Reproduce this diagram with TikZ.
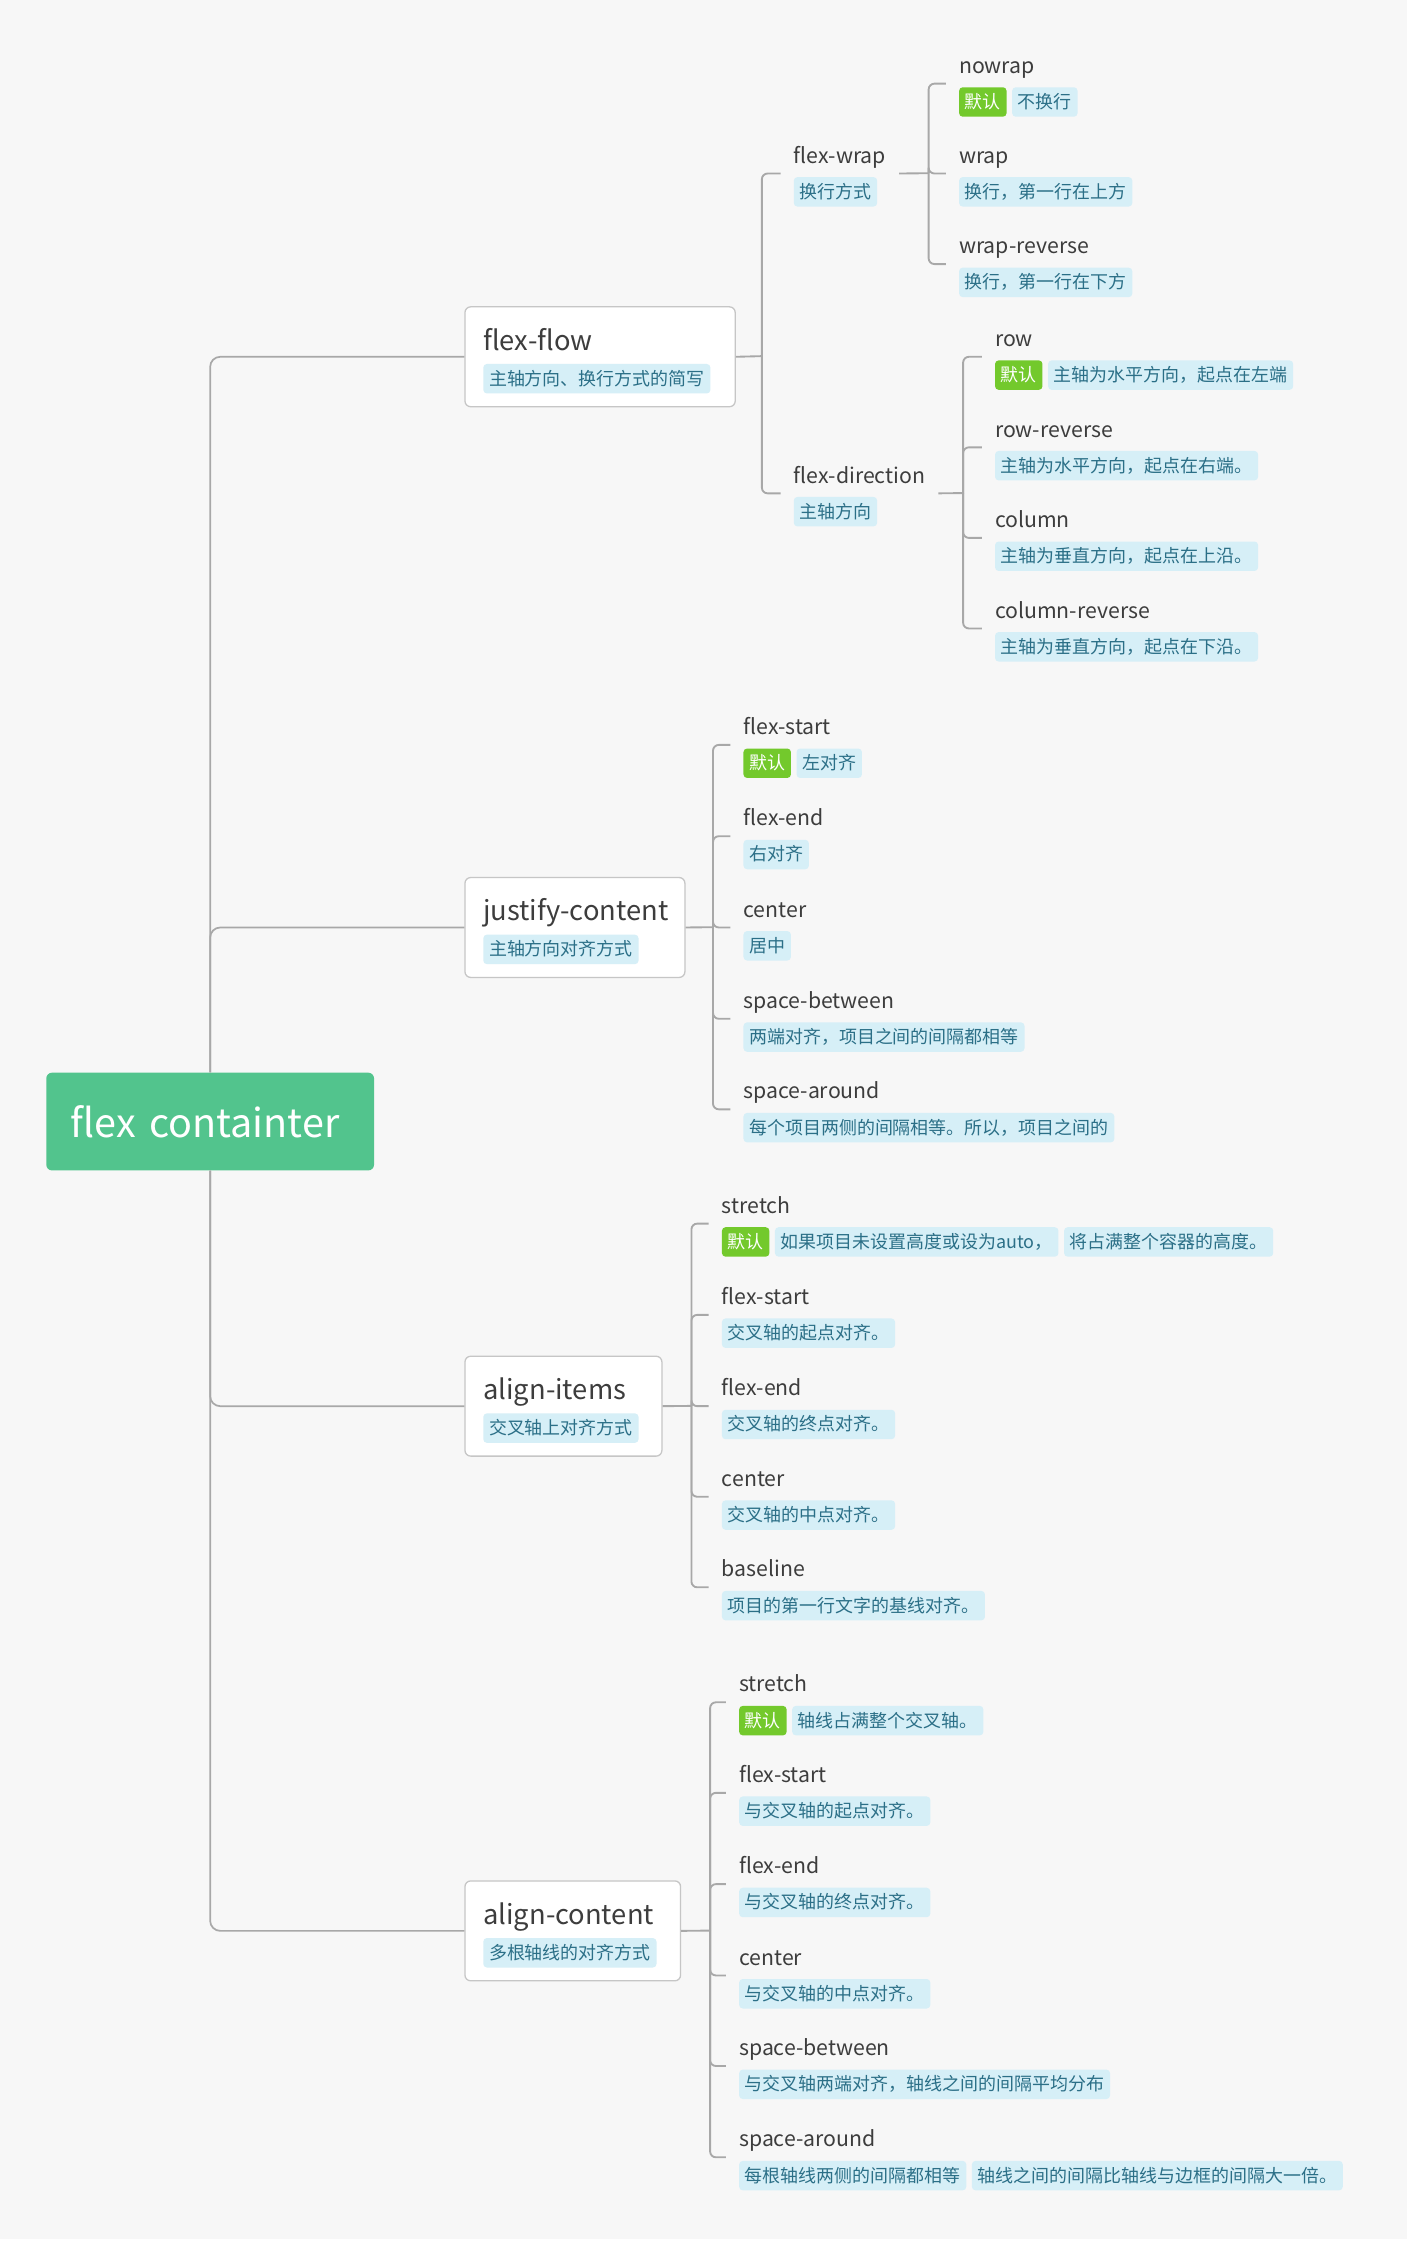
\documentclass[tikz,border=0pt]{standalone}
\usepackage{fontspec}
\setmainfont{Noto Sans CJK SC}
\usetikzlibrary{positioning}
\definecolor{bgcol}{HTML}{F7F7F7}
\definecolor{rootgreen}{HTML}{52C48D}
\definecolor{defgreen}{HTML}{73C92C}
\definecolor{tagbg}{HTML}{D6EFF7}
\definecolor{tagink}{HTML}{2B6F87}
\definecolor{ink}{HTML}{3D3D3D}
\definecolor{linecol}{HTML}{A8A8A8}
\definecolor{cardline}{HTML}{C6C6C6}
\newcommand\rootfont{\fontsize{27.5}{33}\selectfont}
\newcommand\cardfont{\fontsize{19}{23}\selectfont}
\newcommand\itemfont{\fontsize{14.8}{18}\selectfont}
\newcommand\tagfont{\fontsize{12.5}{15}\selectfont}
\tikzset{
  link/.style={draw=linecol, line width=1.3pt, rounded corners=4pt},
  trunkline/.style={draw=linecol, line width=1.2pt, rounded corners=7pt},
  rootbox/.style={anchor=north west, fill=rootgreen, rounded corners=4pt, text=white, font=\rootfont,
    text width=194pt, align=left, inner xsep=17pt, inner ysep=0pt, minimum height=68pt},
  cardbox/.style={anchor=north west, draw=cardline, line width=0.9pt, fill=white, rounded corners=4pt,
    minimum height=69.5pt, inner sep=0pt},
  cardtitle/.style={anchor=base west, inner sep=0pt, font=\cardfont, text=ink},
  itemtitle/.style={anchor=base west, inner xsep=9pt, inner ysep=0pt, text depth=7pt, font=\itemfont, text=ink},
  notetag/.style={anchor=north west, fill=tagbg, text=tagink, rounded corners=2.5pt, font=\tagfont,
    inner xsep=4pt, inner ysep=0pt, text height=10.5pt, text depth=1.5pt, minimum height=20.5pt},
  deftag/.style={notetag, fill=defgreen, text=white},
}
\begin{document}
\begin{tikzpicture}[x=1pt,y=-1pt]
\useasboundingbox (0,0) rectangle (985,1568);
\fill[white] (0,0) rectangle (985,1568);
\fill[bgcol] (0,0) rectangle (979,1557.5);
% root and the four cards
\node[rootbox] (root) at (32,746) {flex containter};
\node[cardbox, minimum width=188pt] (ff) at (323,213) {};
\node[cardbox, minimum width=153pt] (jc) at (323,610) {};
\node[cardbox, minimum width=137pt] (ai) at (323,943) {};
\node[cardbox, minimum width=150pt] (ac) at (323,1308) {};
\draw[trunkline] (root.north) |- (ff.west);
\draw[trunkline] (root.north) |- (jc.west);
\draw[trunkline] (root.south) |- (ai.west);
\draw[trunkline] (root.south) |- (ac.west);
\node[cardtitle] (ff-t) at (336,243.5) {flex-flow};
\node[notetag] (ff-s) at (336,253) {主轴方向、换行方式的简写};
\node[cardtitle] (jc-t) at (336,640.5) {justify-content};
\node[notetag] (jc-s) at (336,650) {主轴方向对齐方式};
\node[cardtitle] (ai-t) at (336,973.5) {align-items};
\node[notetag] (ai-s) at (336,983) {交叉轴上对齐方式};
\node[cardtitle] (ac-t) at (336,1338.5) {align-content};
\node[notetag] (ac-s) at (336,1348) {多根轴线的对齐方式};
% flex-flow
\coordinate (ff-j) at (530,247.75);
\draw[link] (ff.east) -- (ff-j);
\node[itemtitle] (fwrap) at (543,113.5) {flex-wrap};
\node[notetag] (fwrap-n) at (552,123) {换行方式};
\node[itemtitle] (fdir) at (543,336) {flex-direction};
\node[notetag] (fdir-n) at (552,345.5) {主轴方向};
\draw[link] (ff-j) |- (fwrap.south west);
\draw[link] (ff-j) |- (fdir.south west);
% flex-wrap
\coordinate (fw-j) at (646,120.5);
\draw[link] (fwrap.south east) -- (fw-j);
\node[itemtitle] (nowrap) at (658,51) {nowrap};
\node[deftag] (nowrap-d) at (667,60.5) {默认};
\node[notetag, right=3.5pt of nowrap-d] (nowrap-n) {不换行};
\node[itemtitle] (wrap) at (658,113.5) {wrap};
\node[notetag] (wrap-n) at (667,123) {换行，第一行在上方};
\node[itemtitle] (wrapr) at (658,176.5) {wrap-reverse};
\node[notetag] (wrapr-n) at (667,186) {换行，第一行在下方};
\draw[link] (fw-j) |- (nowrap.south west);
\draw[link] (fw-j) |- (wrap.south west);
\draw[link] (fw-j) |- (wrapr.south west);
% flex-direction
\coordinate (fd-j) at (670,343);
\draw[link] (fdir.south east) -- (fd-j);
\node[itemtitle] (row) at (683,241) {row};
\node[deftag] (row-d) at (692,250.5) {默认};
\node[notetag, right=3.5pt of row-d] (row-n) {主轴为水平方向，起点在左端};
\node[itemtitle] (rowr) at (683,304) {row-reverse};
\node[notetag] (rowr-n) at (692,313.5) {主轴为水平方向，起点在右端。};
\node[itemtitle] (col) at (683,367) {column};
\node[notetag] (col-n) at (692,376.5) {主轴为垂直方向，起点在上沿。};
\node[itemtitle] (colr) at (683,430) {column-reverse};
\node[notetag] (colr-n) at (692,439.5) {主轴为垂直方向，起点在下沿。};
\draw[link] (fd-j) |- (row.south west);
\draw[link] (fd-j) |- (rowr.south west);
\draw[link] (fd-j) |- (col.south west);
\draw[link] (fd-j) |- (colr.south west);
% justify-content
\coordinate (jc-j) at (496,645);
\draw[link] (jc.east) -- (jc-j);
\node[itemtitle] (jc-start) at (508,511) {flex-start};
\node[deftag] (jc-start-d) at (517,520.5) {默认};
\node[notetag, right=3.5pt of jc-start-d] (jc-start-n) {左对齐};
\node[itemtitle] (jc-end) at (508,574.5) {flex-end};
\node[notetag] (jc-end-n) at (517,584) {右对齐};
\node[itemtitle] (jc-center) at (508,638) {center};
\node[notetag] (jc-center-n) at (517,647.5) {居中};
\node[itemtitle] (jc-between) at (508,701.5) {space-between};
\node[notetag] (jc-between-n) at (517,711) {两端对齐，项目之间的间隔都相等};
\node[itemtitle] (jc-around) at (508,764.5) {space-around};
\node[notetag] (jc-around-n) at (517,774) {每个项目两侧的间隔相等。所以，项目之间的};
\draw[link] (jc-j) |- (jc-start.south west);
\draw[link] (jc-j) |- (jc-end.south west);
\draw[link] (jc-j) |- (jc-center.south west);
\draw[link] (jc-j) |- (jc-between.south west);
\draw[link] (jc-j) |- (jc-around.south west);
% align-items
\coordinate (ai-j) at (481,978);
\draw[link] (ai.east) -- (ai-j);
\node[itemtitle] (ai-stretch) at (493,844) {stretch};
\node[deftag] (ai-stretch-d) at (502,853.5) {默认};
\node[notetag, right=3.5pt of ai-stretch-d] (ai-stretch-n) {如果项目未设置高度或设为auto，};
\node[notetag, right=3.5pt of ai-stretch-n] (ai-stretch-n2) {将占满整个容器的高度。};
\node[itemtitle] (ai-start) at (493,907.5) {flex-start};
\node[notetag] (ai-start-n) at (502,917) {交叉轴的起点对齐。};
\node[itemtitle] (ai-end) at (493,971) {flex-end};
\node[notetag] (ai-end-n) at (502,980.5) {交叉轴的终点对齐。};
\node[itemtitle] (ai-center) at (493,1034) {center};
\node[notetag] (ai-center-n) at (502,1043.5) {交叉轴的中点对齐。};
\node[itemtitle] (ai-base) at (493,1097) {baseline};
\node[notetag] (ai-base-n) at (502,1106.5) {项目的第一行文字的基线对齐。};
\draw[link] (ai-j) |- (ai-stretch.south west);
\draw[link] (ai-j) |- (ai-start.south west);
\draw[link] (ai-j) |- (ai-end.south west);
\draw[link] (ai-j) |- (ai-center.south west);
\draw[link] (ai-j) |- (ai-base.south west);
% align-content
\coordinate (ac-j) at (494,1343);
\draw[link] (ac.east) -- (ac-j);
\node[itemtitle] (ac-stretch) at (505,1177) {stretch};
\node[deftag] (ac-stretch-d) at (514,1186.5) {默认};
\node[notetag, right=3.5pt of ac-stretch-d] (ac-stretch-n) {轴线占满整个交叉轴。};
\node[itemtitle] (ac-start) at (505,1240) {flex-start};
\node[notetag] (ac-start-n) at (514,1249.5) {与交叉轴的起点对齐。};
\node[itemtitle] (ac-end) at (505,1303.5) {flex-end};
\node[notetag] (ac-end-n) at (514,1313) {与交叉轴的终点对齐。};
\node[itemtitle] (ac-center) at (505,1367) {center};
\node[notetag] (ac-center-n) at (514,1376.5) {与交叉轴的中点对齐。};
\node[itemtitle] (ac-between) at (505,1430) {space-between};
\node[notetag] (ac-between-n) at (514,1439.5) {与交叉轴两端对齐，轴线之间的间隔平均分布};
\node[itemtitle] (ac-around) at (505,1493.5) {space-around};
\node[notetag] (ac-around-n) at (514,1503) {每根轴线两侧的间隔都相等};
\node[notetag, right=3.5pt of ac-around-n] (ac-around-n2) {轴线之间的间隔比轴线与边框的间隔大一倍。};
\draw[link] (ac-j) |- (ac-stretch.south west);
\draw[link] (ac-j) |- (ac-start.south west);
\draw[link] (ac-j) |- (ac-end.south west);
\draw[link] (ac-j) |- (ac-center.south west);
\draw[link] (ac-j) |- (ac-between.south west);
\draw[link] (ac-j) |- (ac-around.south west);
\end{tikzpicture}
\end{document}
